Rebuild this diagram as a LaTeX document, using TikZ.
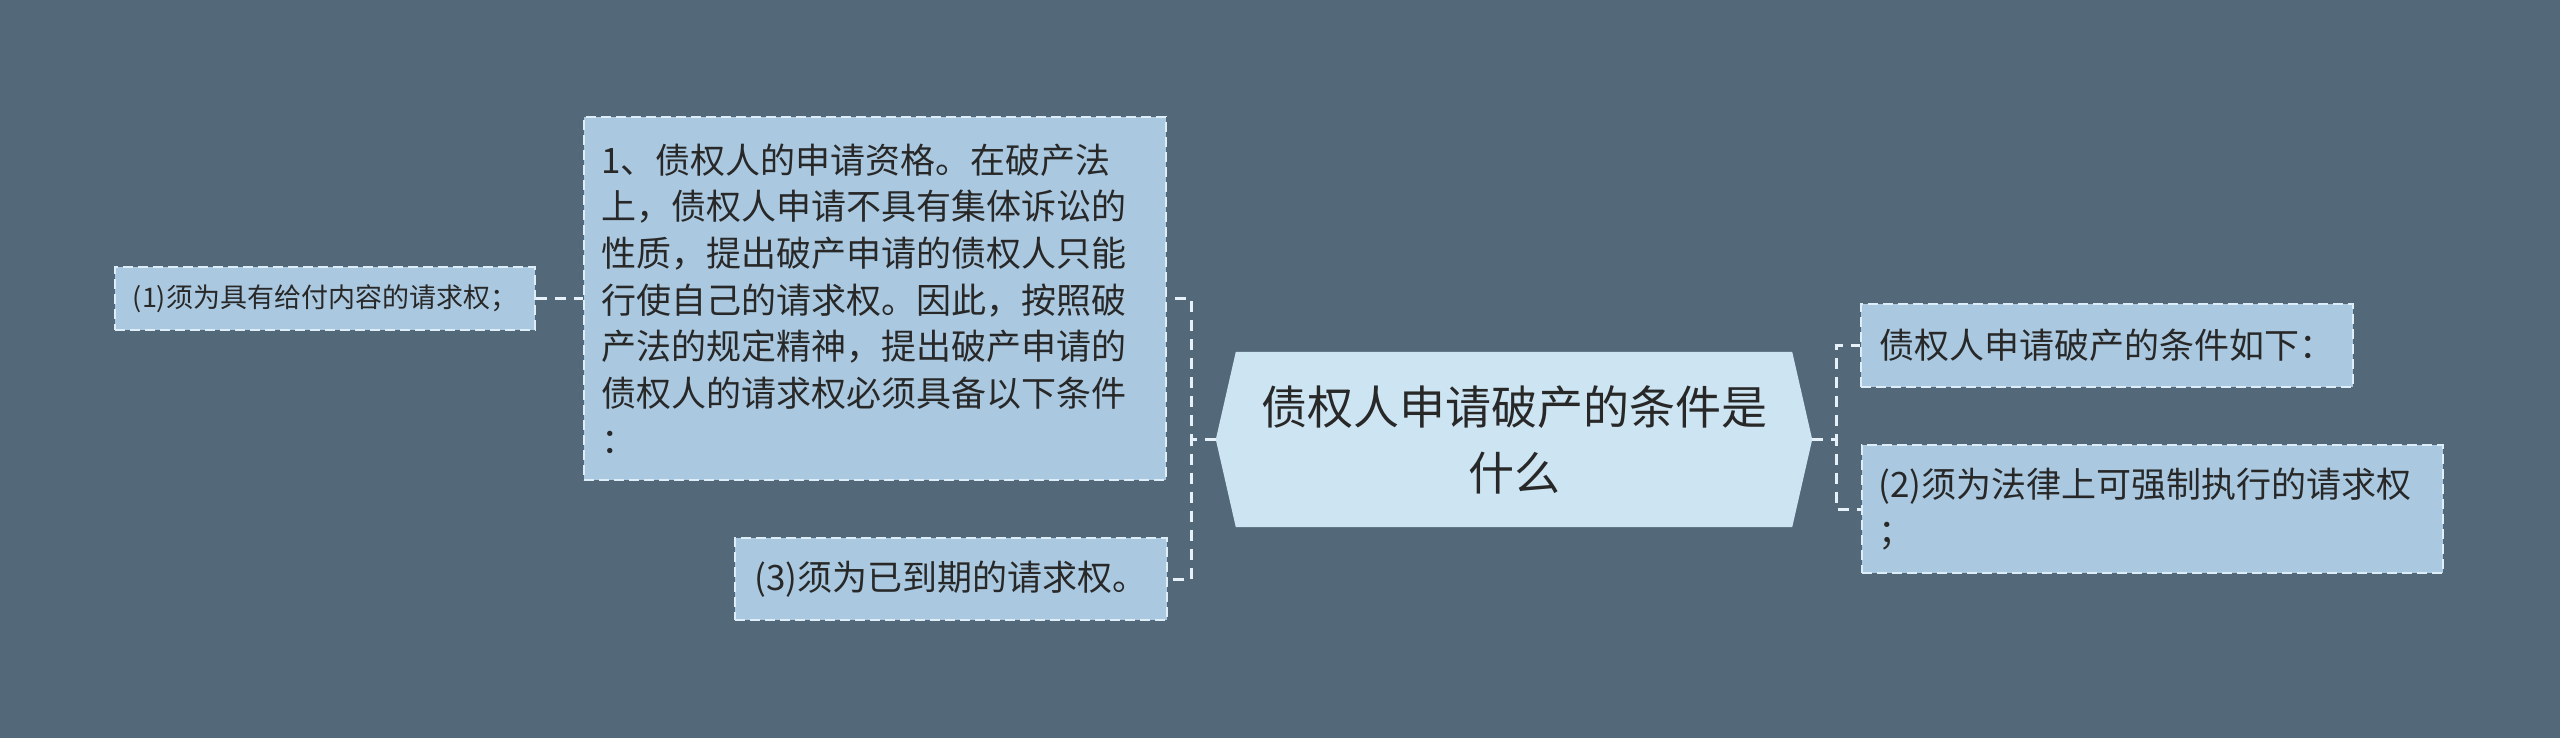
\documentclass[tikz,border=0pt]{standalone}
\usepackage{fontspec}
\setmainfont{Noto Sans CJK SC}
\usetikzlibrary{backgrounds}
\definecolor{bgc}{RGB}{83,104,120}
\definecolor{boxc}{RGB}{170,201,224}
\definecolor{centc}{RGB}{205,229,242}
\definecolor{bordc}{RGB}{222,238,248}
\definecolor{linec}{RGB}{230,241,249}
\definecolor{txtc}{RGB}{40,40,40}
\tikzset{
  leafbox/.style={rectangle, fill=boxc, draw=bordc, line width=2pt,
    dash pattern=on 10pt off 5pt, text=txtc, inner ysep=0pt, inner xsep=17pt,
    font=\fontsize{35}{46.7}\selectfont, align=left},
  smallbox/.style={leafbox, font=\fontsize{27}{34}\selectfont},
  centbox/.style={rectangle, draw=none, text=txtc, inner sep=0pt,
    font=\fontsize{46}{66}\selectfont, align=center},
  conn/.style={draw=linec, line width=3pt, dash pattern=on 11pt off 8pt}
}
\begin{document}
\begin{tikzpicture}[x=1pt,y=-1pt]
\begin{scope}[on background layer]
\fill[bgc] (0,0) rectangle (2560,738);
\end{scope}
\useasboundingbox (0,0) rectangle (2560,738);

\node[centbox, minimum width=596pt, minimum height=175pt] (c) at (1514,439.5)
  {债权人申请破产的条件是\\什么};
\begin{scope}[on background layer]
\fill[centc] (c.west) -- ([xshift=20pt]c.north west) -- ([xshift=-20pt]c.north east)
  -- (c.east) -- ([xshift=-20pt]c.south east) -- ([xshift=20pt]c.south west) -- cycle;
\end{scope}

\node[leafbox, text width=548pt, minimum height=363pt] (big) at (875,298.5)
  {1、债权人的申请资格。在破产法\\上，债权人申请不具有集体诉讼的\\性质，提出破产申请的债权人只能\\行使自己的请求权。因此，按照破\\产法的规定精神，提出破产申请的\\债权人的请求权必须具备以下条件\\：};

\node[smallbox, minimum width=420pt, minimum height=63pt] (n1) at (325,298.5)
  {(1)须为具有给付内容的请求权；};

\node[leafbox, minimum width=432pt, minimum height=82pt] (n3) at (951,579)
  {(3)须为已到期的请求权。};

\node[leafbox, minimum width=492pt, minimum height=83pt] (t1) at (2107,345.5)
  {债权人申请破产的条件如下：};

\node[leafbox, text width=547pt, minimum height=128pt] (t2) at (2152,509)
  {(2)须为法律上可强制执行的请求权\\；};

\draw[conn] (n1.east) -- (big.west);
\draw[conn] (c.west) -- ++(-24,0) |- (big.east);
\draw[conn] (c.west) -- ++(-24,0) |- (n3.east);
\draw[conn] (c.east) -- ++(24,0) |- (t1.west);
\draw[conn] (c.east) -- ++(24,0) |- (t2.west);
\end{tikzpicture}
\end{document}
